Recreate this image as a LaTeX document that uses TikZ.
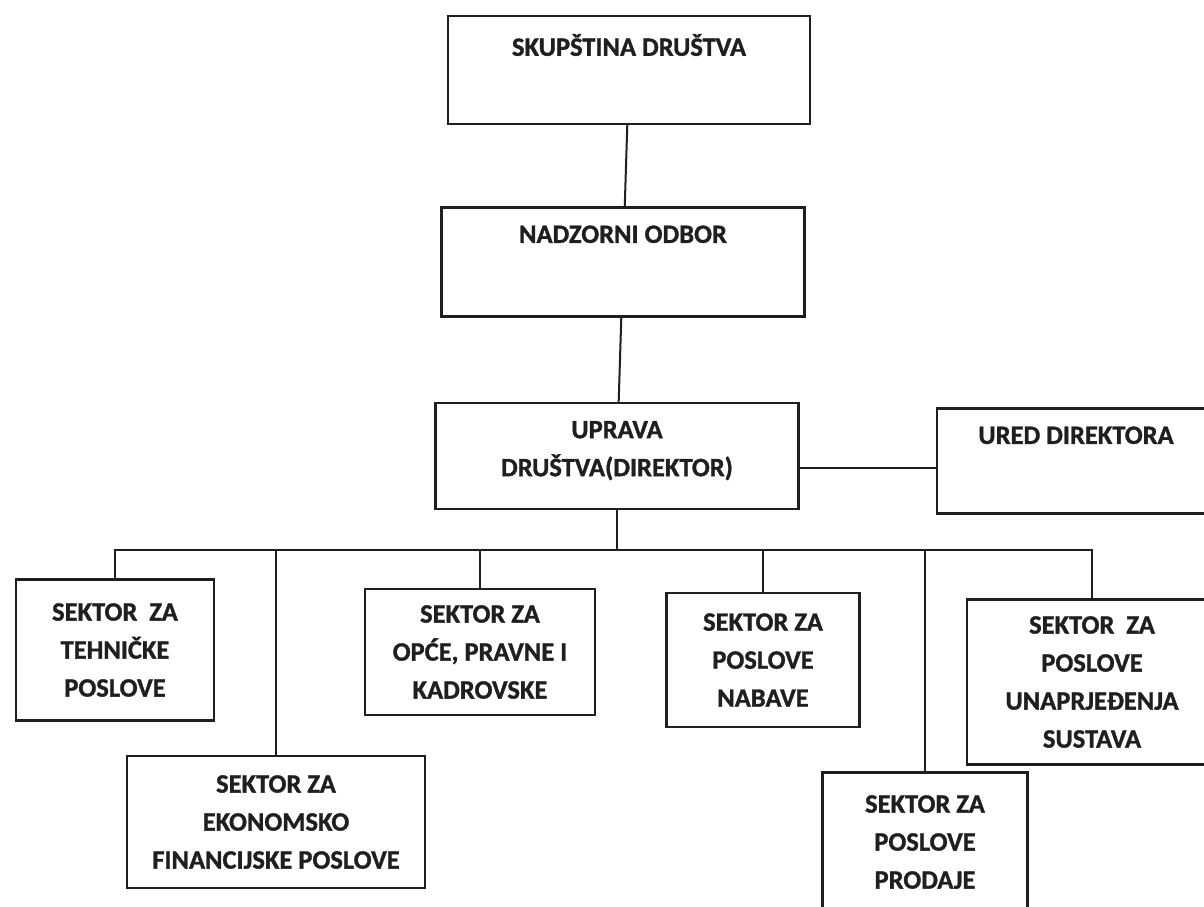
\documentclass[tikz,border=0pt]{standalone}
\usepackage{fontspec}
\setmainfont{Carlito}[BoldFeatures={FakeBold=1.2}]

\begin{document}
\begin{tikzpicture}[x=1pt, y=-1pt,
        font=\bfseries\fontsize{26.5}{38}\selectfont, text=black!88,
        org/.style={draw=black!88, line width=2.4pt, align=center, inner sep=0pt},
        toptext/.style={label={[anchor=north, yshift=-19pt, inner sep=0pt, align=center]north:#1}},
        link/.style={draw=black!88, line width=2pt}]
            \path [use as bounding box, clip] (0,0) rectangle (1204,906);
            \node [org, minimum width=362pt, minimum height=108pt, toptext={SKUPŠTINA DRUŠTVA}] (skup) at (629,70) {};
            \node [org, minimum width=363pt, minimum height=109pt, toptext={NADZORNI ODBOR}] (nadz) at (623,262) {};
            \node [org, minimum width=363pt, minimum height=106pt, toptext={UPRAVA\\DRUŠTVA(DIREKTOR)}] (uprava) at (617,456) {};
            \node [org, minimum width=278pt, minimum height=105pt, toptext={URED DIREKTORA}] (ured) at (1076,461) {};
            \node [org, minimum width=198pt, minimum height=141pt] (tehn) at (115,650) {SEKTOR\ \ ZA\\TEHNIČKE\\POSLOVE};
            \node [org, minimum width=298pt, minimum height=132pt] (ekon) at (276,822) {SEKTOR ZA\\EKONOMSKO\\FINANCIJSKE POSLOVE};
            \node [org, minimum width=230pt, minimum height=126pt] (opce) at (480,652) {SEKTOR ZA\\OPĆE, PRAVNE I\\KADROVSKE};
            \node [org, minimum width=193pt, minimum height=134pt] (nabava) at (763,660) {SEKTOR ZA\\POSLOVE\\NABAVE};
            \node [org, minimum width=205pt, minimum height=139pt] (prodaja) at (925,842) {SEKTOR ZA\\POSLOVE\\PRODAJE};
            \node [org, minimum width=250pt, minimum height=165pt] (unapr) at (1092,682) {SEKTOR\ \ ZA\\POSLOVE\\UNAPRJEĐENJA\\SUSTAVA};
            \coordinate (bus) at (617,550);
            \draw [link] (skup) -- (nadz);
            \draw [link] (nadz) -- (uprava);
            \draw [link] ([yshift=-12pt] uprava.east) -- ([yshift=-12pt] uprava.east -| ured.west);
            \draw [link] (uprava) -- (bus);
            \draw [link] (tehn.north) |- (bus) -| (unapr.north);
            \draw [link] (bus -| ekon.north) -- (ekon);
            \draw [link] (bus -| opce.north) -- (opce);
            \draw [link] (bus -| nabava.north) -- (nabava);
            \draw [link] (bus -| prodaja.north) -- (prodaja);
        \end{tikzpicture}
\end{document}
